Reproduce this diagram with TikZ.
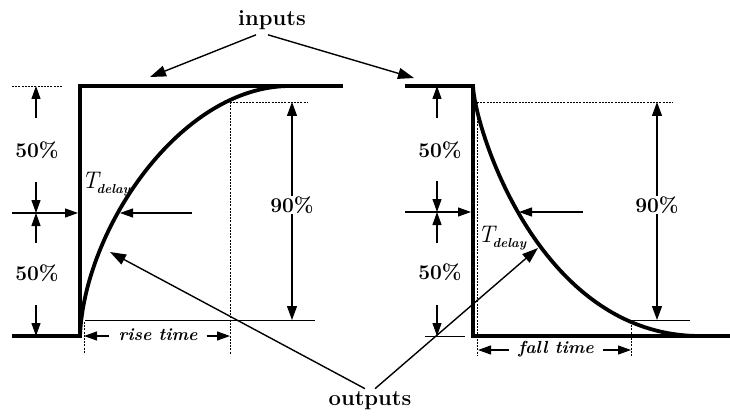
\documentclass[tikz,border=0pt]{standalone}
\usetikzlibrary{arrows.meta}
\begin{document}
\begin{tikzpicture}[x=1pt,y=-1pt,
  sig/.style={line width=3.8pt, line join=miter},
  dim/.style={line width=1.2pt, -{Triangle[length=13pt,width=9pt]}},
  ddim/.style={line width=1.2pt, {Triangle[length=14pt,width=10pt]}-{Triangle[length=14pt,width=10pt]}},
  guide/.style={line width=0.8pt, dash pattern=on 2pt off 1.2pt},
  thinl/.style={line width=0.9pt},
  pct/.style={font=\fontsize{21}{24}\selectfont\bfseries, fill=white, inner sep=1pt},
  big/.style={font=\fontsize{22}{26}\selectfont\bfseries, inner sep=1pt},
  tlab/.style={font=\fontsize{17.5}{20}\selectfont\bfseries\itshape, inner sep=1pt},
  tdel/.style={inner sep=0pt},
  callout/.style={line width=1.4pt, -{Triangle[length=16pt,width=11pt]}}
]
\useasboundingbox (0,0) rectangle (730,417);
\newcommand{\tdelaytext}{{\fontsize{24}{28}\selectfont\itshape T}\kern-2pt\raisebox{-5pt}{\fontsize{13}{15}\selectfont\bfseries\itshape delay}}

% ---------- left panel ----------
\draw[sig] (12,336) -- (80,336) -- (80,86) -- (343,86);
\draw[sig] (80,336) .. controls (84,230) and (180,86) .. (290,86);

\draw[guide] (12,86) -- (62,86);
\draw[guide] (230,102) -- (308,102);
\draw[guide] (230,102) -- (230,354);
\draw[thinl] (85,320) -- (315,320);
\draw[guide] (84,322) -- (84,354);

\coordinate (L90a) at (292,102);
\coordinate (L90b) at (292,320);
\draw[ddim] (L90a) -- (L90b);
\node[pct] (L90) at (292,205) {90\%};

\coordinate (La1) at (36,118); \coordinate (La1t) at (36,86);
\coordinate (La2) at (36,182); \coordinate (Lmid) at (36,213);
\coordinate (La3) at (36,243);
\coordinate (La4) at (36,305); \coordinate (La4t) at (36,336);
\draw[dim] (La1) -- (La1t);
\draw[dim] (La2) -- (Lmid);
\draw[dim] (La3) -- (Lmid);
\draw[dim] (La4) -- (La4t);
\node[pct] (L50a) at (37,150) {50\%};
\node[pct] (L50b) at (37,273) {50\%};

\coordinate (Lh0) at (12,213); \coordinate (Lh1) at (78,213);
\draw[dim] (Lh0) -- (Lh1);
\coordinate (Lr0) at (192,213); \coordinate (Lr1) at (120,213);
\draw[dim] (Lr0) -- (Lr1);
\node[tdel] (LT) at (106,184) {\tdelaytext};

\node[tlab] (rt) at (158,335) {rise time};
\coordinate (rtl) at (84,336); \coordinate (rtr) at (230,336);
\draw[dim] (rt.west) ++(-8,1) -- (rtl);
\draw[dim] (rt.east) ++(8,1) -- (rtr);

% ---------- right panel ----------
\draw[sig] (405,86) -- (473,86) -- (473,336) -- (730,336);
\draw[sig] (473,86) .. controls (475,130) and (540,336) .. (700,336);

\draw[guide] (477,102) -- (673,102);
\draw[guide] (477,102) -- (477,356);
\draw[thinl] (630,320) -- (690,320);
\draw[guide] (631,322) -- (631,356);
\draw[thinl] (425,336) -- (465,336);

\coordinate (R90a) at (657,102);
\coordinate (R90b) at (657,320);
\draw[ddim] (R90a) -- (R90b);
\node[pct] (R90) at (657,205) {90\%};

\coordinate (Ra1) at (437,118); \coordinate (Ra1t) at (437,86);
\coordinate (Ra2) at (437,181); \coordinate (Rmid) at (437,212);
\coordinate (Ra3) at (437,243);
\coordinate (Ra4) at (437,305); \coordinate (Ra4t) at (437,336);
\draw[dim] (Ra1) -- (Ra1t);
\draw[dim] (Ra2) -- (Rmid);
\draw[dim] (Ra3) -- (Rmid);
\draw[dim] (Ra4) -- (Ra4t);
\node[pct] (R50a) at (440,150) {50\%};
\node[pct] (R50b) at (440,272) {50\%};

\coordinate (Rh0) at (405,212); \coordinate (Rh1) at (471,212);
\draw[dim] (Rh0) -- (Rh1);
\coordinate (Rr0) at (583,212); \coordinate (Rr1) at (519,212);
\draw[dim] (Rr0) -- (Rr1);
\node[tdel] (RT) at (502,238) {\tdelaytext};

\node[tlab] (ft) at (556,349) {fall time};
\coordinate (ftl) at (478,350); \coordinate (ftr) at (631,350);
\draw[dim] (ft.west) ++(-8,1) -- (ftl);
\draw[dim] (ft.east) ++(8,1) -- (ftr);

% ---------- callouts ----------
\node[big] (inp) at (272,20) {inputs};
\coordinate (inL) at (150,77); \coordinate (inR) at (414,78);
\draw[callout] (inp.south) ++(-16,4) -- (inL);
\draw[callout] (inp.south) ++(-4,4) -- (inR);

\node[big] (outp) at (370,401) {outputs};
\coordinate (outL) at (110,252); \coordinate (outR) at (538,248);
\draw[callout] (outp.north) ++(-5,-2) -- (outL);
\draw[callout] (outp.north) ++(5,-2) -- (outR);
\end{tikzpicture}
\end{document}
